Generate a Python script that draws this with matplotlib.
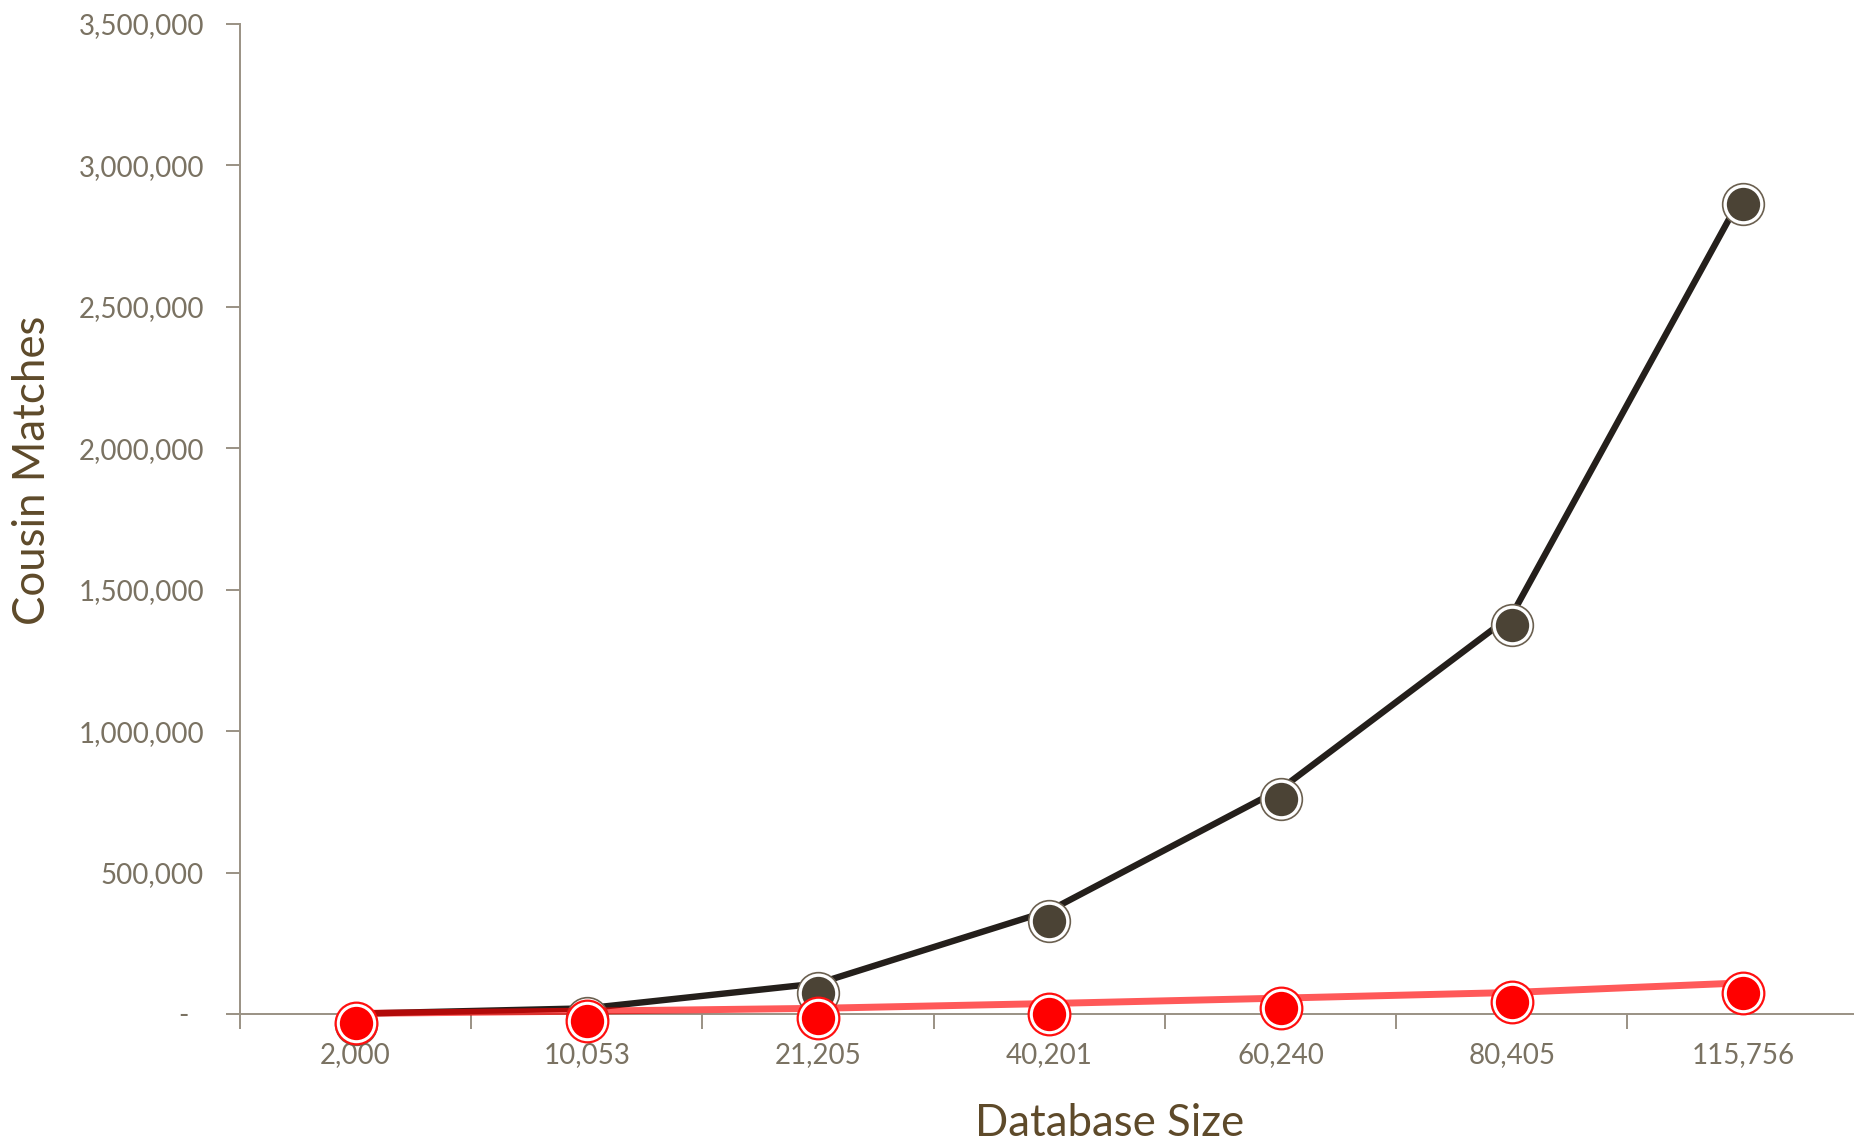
import matplotlib
matplotlib.use('Agg')
import matplotlib.pyplot as plt
import matplotlib.transforms as mtransforms
from matplotlib.ticker import FuncFormatter

# Database sizes (categories) and cousin match counts
sizes = ['2,000', '10,053', '21,205', '40,201', '60,240', '80,405', '115,756']
total_matches = [1000, 20000, 108000, 365000, 795000, 1410000, 2900000]
close_matches = [2000, 10000, 20000, 37000, 56000, 76000, 110000]

plt.rcParams['font.family'] = ['Lato', 'DejaVu Sans']

fig = plt.figure(figsize=(18.54, 11.42), dpi=100)
ax = fig.add_axes([240 / 1854, 0.1121, (1858.6 - 240) / 1854, 0.979 - 0.1121])

x = list(range(len(sizes)))
# markers sit a few pixels below their line vertices
mk = mtransforms.offset_copy(ax.transData, fig=fig, x=0, y=-10, units='dots')

# black series
ax.plot(x, total_matches, color='#241f1b', lw=4.6, solid_capstyle='round', zorder=3, clip_on=False)
ax.plot(x, total_matches, ls='none', marker='o', ms=30, mfc='white', mec='#6b6050', mew=1.2,
        transform=mk, zorder=4, clip_on=False)
ax.plot(x, total_matches, ls='none', marker='o', ms=24, mfc='#4b4335', mec='none',
        transform=mk, zorder=5, clip_on=False)

# red series
ax.plot(x, close_matches, color='#ff0000', alpha=0.65, lw=5, solid_capstyle='round', zorder=6, clip_on=False)
ax.plot(x, close_matches, ls='none', marker='o', ms=30, mfc='white', mec='#ff1010', mew=1.6,
        transform=mk, zorder=7, clip_on=False)
ax.plot(x, close_matches, ls='none', marker='o', ms=24, mfc='#ff0000', mec='none',
        transform=mk, zorder=8, clip_on=False)

ax.set_xlim(-0.5, len(sizes) - 0.5)
ax.set_ylim(0, 3500000)

axis_col = '#9a9284'
for side in ['top', 'right']:
    ax.spines[side].set_visible(False)
for side in ['left', 'bottom']:
    ax.spines[side].set_color(axis_col)
    ax.spines[side].set_linewidth(1.4)

ax.set_yticks(range(0, 3500001, 500000))
ax.yaxis.set_major_formatter(FuncFormatter(lambda v, p: '-  ' if v == 0 else f'{int(v):,}'))
ax.tick_params(axis='y', direction='out', length=10, width=1.4, color=axis_col,
               labelsize=20, labelcolor='#7a7262', pad=16)

ax.set_xticks(x)
ax.set_xticklabels(sizes)
ax.set_xticks([i - 0.5 for i in range(len(sizes) + 1)], minor=True)
ax.tick_params(axis='x', which='major', length=0, labelsize=20, labelcolor='#7a7262', pad=20)
ax.tick_params(axis='x', which='minor', direction='out', length=11, width=1.4, color=axis_col)

# axis titles
fig.text(1110 / 1854, 1 - 1124 / 1142, 'Database Size', fontsize=31.5, color='#5e4a2a',
         ha='center', va='center')
fig.text(33 / 1854, 1 - 470 / 1142, 'Cousin Matches', fontsize=31.5, color='#5e4a2a',
         ha='center', va='center', rotation=90)

fig.savefig('out.png', dpi=100)
